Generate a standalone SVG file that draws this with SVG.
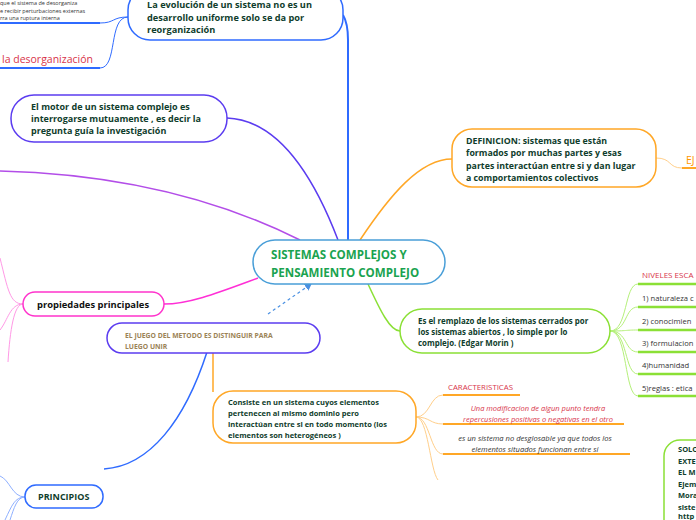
<svg xmlns="http://www.w3.org/2000/svg" width="696" height="520" viewBox="0 0 696 520">
<defs>
<marker id="arr" markerWidth="8" markerHeight="8" refX="6" refY="4" orient="auto" markerUnits="userSpaceOnUse">
<path d="M0,0 L7,4 L0,8 Z" fill="#4a90e2"/>
</marker>
<style>
text{font-family:"Open Sans","Noto Sans","DejaVu Sans",sans-serif}
.b{font-weight:bold;fill:#0f3d2c}
.node{fill:#fff;stroke-width:1.5}
.c{fill:none}
.lbl{fill:#333}
.red{fill:#d8344a}
</style>
</defs>
<rect width="696" height="520" fill="#fff"/>

<g id="connectors" class="c">
<path d="M100,23 C115,23 112,17 128,17" stroke="#2f6bff" stroke-width="1"/>
<path d="M0,23 L100,23" stroke="#2f6bff" stroke-width="2"/>
<path d="M100,68 C118,68 108,17 128,17" stroke="#2f6bff" stroke-width="1"/>
<path d="M0,68 L100,68" stroke="#2f6bff" stroke-width="2"/>
<path d="M348,240 L348,40 C348,28 346,20 343,15" stroke="#2f6bff" stroke-width="2"/>
<path d="M338,240 C315,180 280,120 227,118" stroke="#5b3cf0" stroke-width="1.5"/>
<path d="M0,171 C120,174 220,200 300,240" stroke="#b34ee8" stroke-width="1.5"/>
<path d="M258,278 C220,292 190,304 164,304" stroke="#ff2fd6" stroke-width="1.5"/>
<path d="M23,304 C10,304 8,290 0,258" stroke="#ff99e6" stroke-width="1"/>
<path d="M23,304 C10,304 8,320 0,330" stroke="#ff99e6" stroke-width="1"/>
<path d="M23,304 C14,304 10,330 8,362" stroke="#ff99e6" stroke-width="1"/>
<path d="M268,314 L311,284" stroke="#4a90e2" stroke-width="1.2" stroke-dasharray="3,3" marker-end="url(#arr)"/>
<path d="M213,350 L213,392" stroke="#ffa726" stroke-width="1.5"/>
<path d="M104,469 C150,466 185,420 207,352" stroke="#2f6bff" stroke-width="1.5"/>
<path d="M25,497 C12,497 10,480 0,476" stroke="#8fb0ff" stroke-width="1"/>
<path d="M25,497 C15,497 12,505 5,520" stroke="#8fb0ff" stroke-width="1"/>
<path d="M25,497 C17,497 14,508 10,520" stroke="#8fb0ff" stroke-width="1"/>
<path d="M360,240 C390,195 420,159 452,159" stroke="#ffa726" stroke-width="1.5"/>
<path d="M656,158 C672,158 668,168 682,168" stroke="#ffcf8a" stroke-width="1"/>
<path d="M682,168 L696,168" stroke="#ffa726" stroke-width="2"/>
<path d="M368,284 C380,310 390,331 400,331" stroke="#8be036" stroke-width="1.5"/>
<g stroke="#b5f07a" stroke-width="1">
<path d="M610,331 C628,331 624,284 638,284"/>
<path d="M610,331 C628,331 624,307 638,307"/>
<path d="M610,331 C628,331 624,330 638,330"/>
<path d="M610,331 C628,331 624,352 638,352"/>
<path d="M610,331 C628,331 624,374 638,374"/>
<path d="M610,331 C628,331 624,396 638,396"/>
</g>
<g stroke="#8be036" stroke-width="2.5">
<path d="M638,284 L696,284"/>
<path d="M638,307 L696,307"/>
<path d="M638,330 L696,330"/>
<path d="M638,352 L696,352"/>
<path d="M638,374 L696,374"/>
<path d="M638,396 L696,396"/>
</g>
<g stroke="#ffcf8a" stroke-width="1">
<path d="M416,417 C430,417 430,395 443,395"/>
<path d="M416,417 C430,417 430,424 443,424"/>
<path d="M416,417 C430,417 430,454 443,454"/>
<path d="M416,417 C428,417 430,470 438,480"/>
</g>
<g stroke="#ffa726" stroke-width="2">
<path d="M443,395 L520,395"/>
<path d="M443,424 L624,424"/>
<path d="M443,454 L630,454"/>
</g>
</g>

<g id="n-center">
<rect class="node" x="253" y="240" width="192" height="44" rx="22" stroke="#4a9fd8"/>
<text x="271" y="259" font-size="11.6" font-weight="bold" fill="#1aa350">SISTEMAS COMPLEJOS Y</text>
<text x="271" y="277" font-size="11.6" font-weight="bold" fill="#1aa350">PENSAMIENTO COMPLEJO</text>
</g>

<g id="n-evolucion">
<rect class="node" x="128" y="-12" width="215" height="52" rx="22" stroke="#2f6bff"/>
<text class="b" font-size="9.2" x="147" y="8">La evolución de un sistema no es un</text>
<text class="b" font-size="9.2" x="147" y="21">desarrollo uniforme solo se da por</text>
<text class="b" font-size="9.2" x="147" y="33">reorganización</text>
</g>

<g id="n-perturb">
<text class="lbl" font-size="5.5" x="0" y="5">que el sistema de desorganiza</text>
<text class="lbl" font-size="5.5" x="0" y="13">e recibir perturbaciones externas</text>
<text class="lbl" font-size="5.5" x="0" y="20">rra una ruptura interna</text>
</g>

<g id="n-desorg">
<text class="red" font-size="10.5" x="2" y="63">la desorganización</text>
</g>

<g id="n-motor">
<rect class="node" x="11" y="95" width="216" height="47" rx="23" stroke="#5b3cf0"/>
<text class="b" font-size="9" x="31" y="110">El motor de un sistema complejo  es</text>
<text class="b" font-size="9" x="31" y="122">interrogarse mutuamente , es decir la</text>
<text class="b" font-size="9" x="31" y="134">pregunta guía la investigación</text>
</g>

<g id="n-definicion">
<rect class="node" x="452" y="129" width="204" height="58" rx="20" stroke="#ffa726"/>
<text class="b" font-size="8.8" x="466" y="144">DEFINICION: sistemas que están</text>
<text class="b" font-size="8.8" x="466" y="156">formados por muchas partes y esas</text>
<text class="b" font-size="8.8" x="466" y="169">partes interactúan entre si y dan lugar</text>
<text class="b" font-size="8.8" x="466" y="181">a comportamientos colectivos</text>
</g>

<g id="n-ej">
<text font-size="10.5" x="686" y="164" fill="#ff9800">EJ</text>
</g>

<g id="n-propiedades">
<rect class="node" x="23" y="292" width="141" height="24" rx="12" stroke="#ff33cc"/>
<text font-size="9.4" font-weight="bold" x="37" y="308" fill="#111">propiedades principales</text>
</g>

<g id="n-remplazo">
<rect class="node" x="400" y="309" width="210" height="44" rx="22" stroke="#8be036"/>
<text class="b" font-size="7.9" x="418" y="324">Es el remplazo de los sistemas cerrados por</text>
<text class="b" font-size="7.9" x="418" y="335">los sistemas abiertos , lo simple por lo</text>
<text class="b" font-size="7.9" x="418" y="346">complejo. (Edgar Morin )</text>
</g>

<g id="n-niveles" font-size="7.6">
<text class="red" font-size="8" x="642" y="278">NIVELES ESCA</text>
<text class="lbl" x="642" y="301">1) naturaleza c</text>
<text class="lbl" x="642" y="324">2) conocimien</text>
<text class="lbl" x="642" y="346">3) formulacion</text>
<text class="lbl" x="642" y="368">4)humanidad</text>
<text class="lbl" x="642" y="391">5)reglas : etica</text>
</g>

<g id="n-juego">
<rect class="node" x="107" y="323" width="213" height="30" rx="15" stroke="#5b3cf0"/>
<text font-size="6.8" font-weight="bold" x="125" y="338" fill="#9b8356">EL JUEGO DEL METODO ES DISTINGUIR PARA</text>
<text font-size="6.8" font-weight="bold" x="125" y="349" fill="#9b8356">LUEGO UNIR</text>
</g>

<g id="n-consiste">
<rect class="node" x="213" y="391" width="203" height="52" rx="20" stroke="#ffa726"/>
<text class="b" font-size="7.5" x="228" y="405">Consiste en un sistema cuyos elementos</text>
<text class="b" font-size="7.5" x="228" y="416">pertenecen al mismo dominio pero</text>
<text class="b" font-size="7.5" x="228" y="427">interactúan entre si en todo momento (los</text>
<text class="b" font-size="7.5" x="228" y="438">elementos son heterogéneos )</text>
</g>

<g id="n-caract">
<text class="red" font-size="7.8" x="448" y="390">CARACTERISTICAS</text>
</g>
<g id="n-modif">
<text class="red" font-size="7.5" font-style="italic" text-anchor="middle" x="538" y="411">Una modificacion de algun punto tendra</text>
<text class="red" font-size="7.5" font-style="italic" text-anchor="middle" x="538" y="422">repercusiones positivas o negativas en el otro</text>
</g>
<g id="n-desglosable">
<text class="lbl" font-size="7.6" font-style="italic" text-anchor="middle" x="535" y="441">es un sistema no desglosable ya que todos los</text>
<text class="lbl" font-size="7.6" font-style="italic" text-anchor="middle" x="535" y="452">elementos situados funcionan entre si</text>
</g>

<g id="n-solo">
<rect class="node" x="664" y="440" width="60" height="100" rx="16" stroke="#8be036"/>
<g class="b" font-size="7.5">
<text x="678" y="452">SOLO</text>
<text x="678" y="464">EXTE</text>
<text x="678" y="475">EL M</text>
<text x="678" y="487">Ejem</text>
<text x="678" y="498">Mora</text>
<text x="678" y="510">siste</text>
<text x="678" y="519">http</text>
</g>
</g>

<g id="n-principios">
<rect class="node" x="25" y="485" width="78" height="23" rx="11" stroke="#2f6bff"/>
<text class="b" font-size="9" x="38" y="500">PRINCIPIOS</text>
</g>
</svg>
